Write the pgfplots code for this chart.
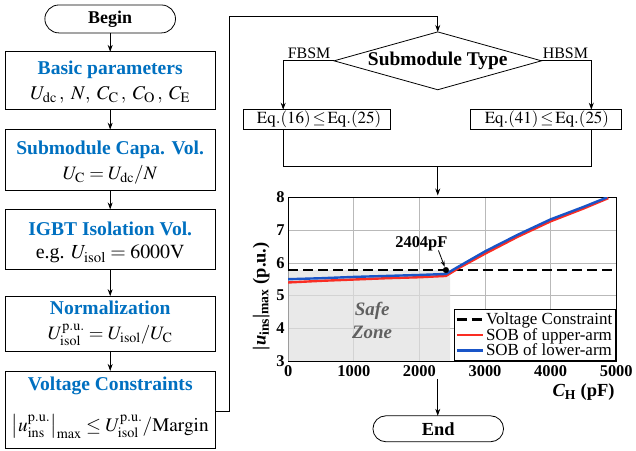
\documentclass[border=0pt]{standalone}
\usepackage{mathptmx}
\usepackage{fontspec}
\setmainfont{Liberation Serif}
\usepackage{pgfplots}
\pgfplotsset{compat=1.18}
\usetikzlibrary{arrows.meta}
\definecolor{titleblue}{RGB}{0,112,192}
\definecolor{sobred}{RGB}{250,45,35}
\definecolor{sobblue}{RGB}{25,85,200}

\newcommand{\ttl}[1]{{\fontsize{19.6}{22}\selectfont\bfseries\color{titleblue}#1}}
\newcommand{\fsz}{\fontsize{19.5}{22}\selectfont}

% upper-arm and lower-arm SOB curves
\pgfplotstableread{
x y
0 5.40
500 5.45
1000 5.49
1500 5.53
2000 5.56
2404 5.60
2600 5.84
3000 6.28
3500 6.80
4000 7.27
4500 7.66
4880 7.98
}\upperarm
\pgfplotstableread{
x y
0 5.50
500 5.53
1000 5.57
1500 5.60
2000 5.63
2404 5.66
2600 5.89
3000 6.35
3500 6.86
4000 7.33
4500 7.71
4860 8.00
}\lowerarm

\begin{document}
\begin{tikzpicture}
\path (0pt,0pt) rectangle (636pt,-452pt);
\begin{scope}[x=1pt,y=-1pt,line width=0.8pt,>={Stealth[length=7pt,width=5pt]}]
% left column
\draw[rounded corners=14pt] (45,5) rectangle (176,33);
\node at (110.5,19) {\fontsize{18}{20}\selectfont\bfseries Begin};
\draw (5,52) rectangle (216,110);
\node at (110.5,70) {\ttl{Basic parameters}};
\node at (110.5,95) {\fsz $U_{\mathrm{dc}}\,,\; N,\; C_{\mathrm{C}}\,,\; C_{\mathrm{O}}\,,\; C_{\mathrm{E}}$};
\draw (5,130) rectangle (216,191);
\node at (110.5,150) {\ttl{Submodule Capa. Vol.}};
\node at (110.5,175) {\fontsize{19}{21}\selectfont $U_{\mathrm{C}} = U_{\mathrm{dc}}/N$};
\draw (5,210) rectangle (216,270);
\node at (110.5,230) {\ttl{IGBT Isolation Vol.}};
\node at (110.5,255) {\fontsize{20}{22}\selectfont e.g. $U_{\mathrm{isol}} = 6000\mathrm{V}$};
\draw (5,297) rectangle (216,352);
\node at (110.5,309) {\ttl{Normalization}};
\node at (110.5,336) {\fontsize{19}{21}\selectfont $U_{\mathrm{isol}}^{\mathrm{p.u.}} = U_{\mathrm{isol}}/U_{\mathrm{C}}$};
\draw (5,372) rectangle (216,450);
\node at (110.5,387) {\ttl{Voltage Constraints}};
\node at (110.5,428) {\fontsize{19.3}{21}\selectfont $\left|u_{\mathrm{ins}}^{\mathrm{p.u.}}\right|_{\mathrm{max}} \le U_{\mathrm{isol}}^{\mathrm{p.u.}}/\mathrm{Margin}$};
\foreach \a/\b in {33/52,110/130,191/210,270/297,352/372}
  \draw[->] (110.5,\a) -- (110.5,\b);
% connector to the right column
\draw[->] (216,413) -- (230,413) -- (230,16) -- (439,16) -- (439,32);
% decision
\draw (439,32) -- (543,61) -- (439,90) -- (335,61) -- cycle;
\node at (439,61) {\fontsize{19.5}{21}\selectfont\bfseries Submodule Type};
\draw[->] (335,61) -- (284,61) -- (284,110);
\draw[->] (543,61) -- (593,61) -- (593,110);
\node at (310,53) {\fontsize{16}{18}\selectfont FBSM};
\node at (567,53) {\fontsize{16}{18}\selectfont HBSM};
\draw (244,110) rectangle (392,130);
\node at (320,120) {\fontsize{17}{18}\selectfont $\mathrm{Eq.}\!\left(16\right)\!\le\!\mathrm{Eq.}\!\left(25\right)$};
\draw (472,110) rectangle (623,130);
\node at (548.5,120) {\fontsize{17}{18}\selectfont $\mathrm{Eq.}\!\left(41\right)\!\le\!\mathrm{Eq.}\!\left(25\right)$};
\draw (284,130) -- (284,167) -- (593,167) -- (593,130);
\draw[->] (439,167) -- (439,196);
% chart labels
\node[anchor=east] at (620,393) {\fontsize{18.5}{20}\selectfont\bfseries\itshape C\textsubscript{\upshape H}\upshape\ (pF)};
\node[rotate=90] at (262,297) {\fontsize{18.5}{20}\selectfont\bfseries |\textit{u}\textsubscript{ins}|\textsubscript{max} (p.u.)};
% end
\draw[->] (439,380) -- (439,417);
\draw[rounded corners=13pt] (374,417) rectangle (505,443);
\node at (439.5,430) {\fontsize{18.5}{20}\selectfont\bfseries End};
\end{scope}

\begin{axis}[
  at={(289pt,-362pt)}, anchor=south west,
  scale only axis, width=329pt, height=164pt,
  xmin=0, xmax=5000, ymin=3, ymax=8,
  xtick={0,1000,...,5000}, ytick={3,...,8},
  grid=major, grid style={gray!55, line width=0.6pt},
  major tick length=0pt,
  axis line style={line width=0.8pt},
  ticklabel style={font=\fontsize{16.5}{18}\selectfont\bfseries},
  /pgf/number format/assume math mode=true,
  /pgf/number format/1000 sep={},
  scaled x ticks=false,
  xticklabel style={yshift=-1pt},
  legend style={at={(1,0)}, anchor=south east, draw=black, line width=0.8pt,
    font=\fontsize{17}{19}\selectfont, inner sep=1.5pt, row sep=-2pt},
  legend cell align=left,
  legend image code/.code={\draw[#1] (0pt,0pt) -- (26pt,0pt);},
]
\addplot[fill=gray!25, fill opacity=0.7, draw=none, forget plot]
  coordinates {(0,3) (2470,3) (2470,5.78) (0,5.78)} \closedcycle;
\addplot[black, line width=2.6pt, dash pattern=on 10pt off 5pt] coordinates {(0,5.78) (5000,5.78)};
\addlegendentry{Voltage Constraint}
\addplot[sobred, line width=2.4pt] table {\upperarm};
\addlegendentry{SOB of upper-arm}
\addplot[sobblue, line width=2.4pt] table {\lowerarm};
\addlegendentry{SOB of lower-arm}
\addplot[only marks, mark=*, mark size=2.8pt, black, forget plot] coordinates {(2404,5.78)};
\node[font=\fontsize{16.5}{18}\selectfont\bfseries] at (axis cs:2030,6.57) {2404pF};
\draw[-{Stealth[length=6pt,width=4pt]}, line width=0.8pt] (axis cs:2290,6.38) -- (axis cs:2385,5.88);
\node[text=gray!75!black, font=\fontsize{19}{23}\selectfont\bfseries\itshape, align=center]
  at (axis cs:1280,4.23) {Safe\\Zone};
\end{axis}
\end{tikzpicture}
\end{document}
